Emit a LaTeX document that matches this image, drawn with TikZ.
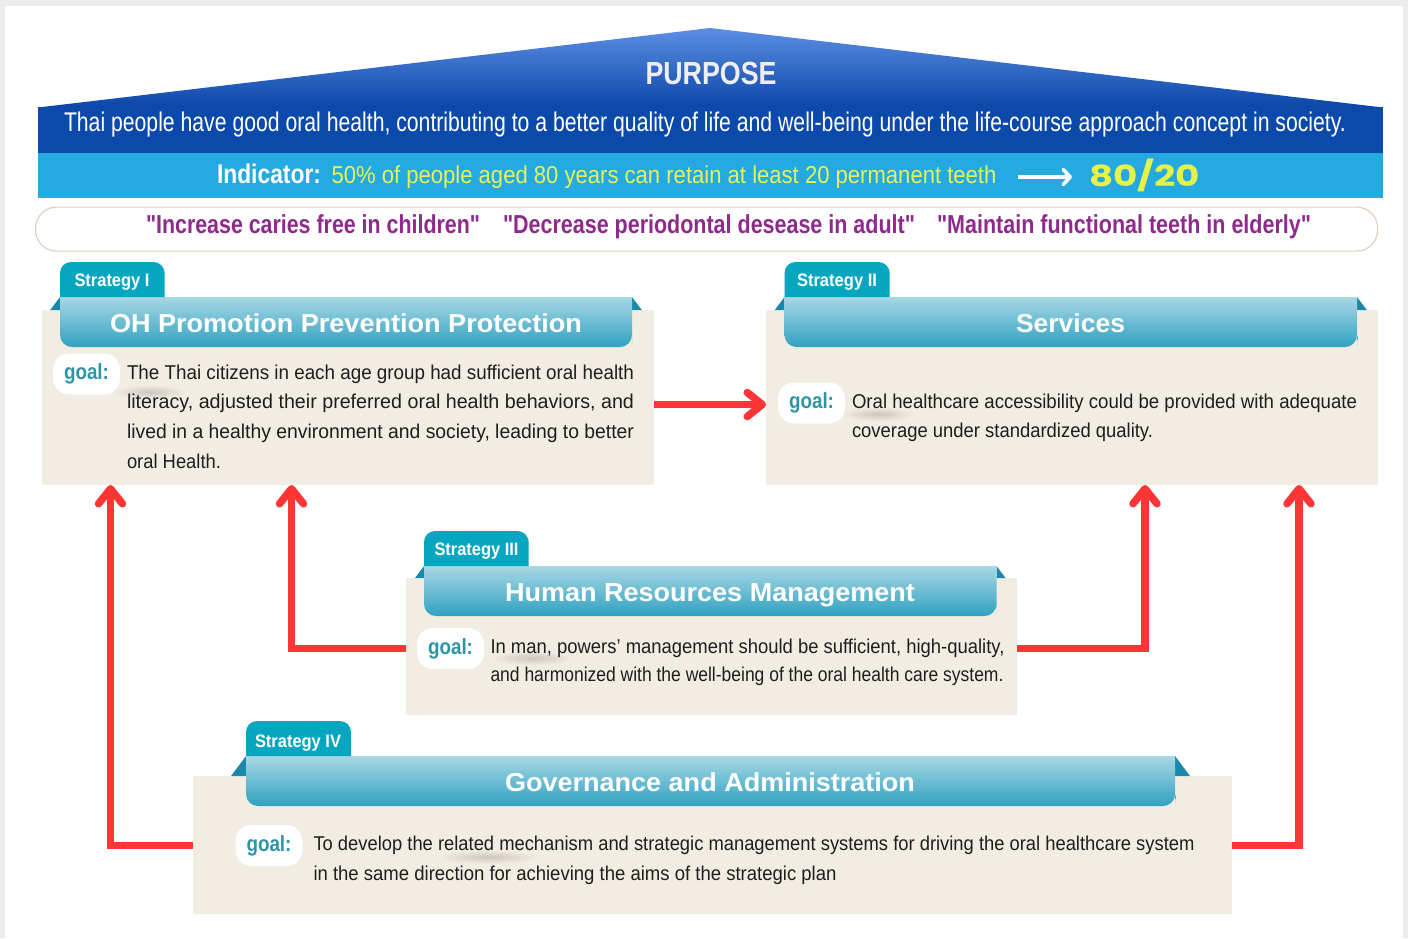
\documentclass[tikz,border=0pt]{standalone}
\usepackage{fontspec}
\usepackage{graphicx}
\setmainfont{Liberation Sans}
\newfontfamily\qfont{Liberation Sans}[Ligatures=TeXOff]
\newfontfamily\popfont{Poppins}
\usetikzlibrary{arrows.meta}

\definecolor{bgray}{HTML}{ECECEC}
\definecolor{rooftop}{HTML}{5C8FE4}
\definecolor{roofbot}{HTML}{0B46A8}
\definecolor{bandblue}{HTML}{0B49AA}
\definecolor{indblue}{HTML}{25A9E1}
\definecolor{yel}{HTML}{E4F25C}
\definecolor{yelb}{HTML}{E5F24A}
\definecolor{pillb}{HTML}{E3CFC7}
\definecolor{purp}{HTML}{8E2A8B}
\definecolor{beige}{HTML}{F2EDE3}
\definecolor{ribtop}{HTML}{A8D8E5}
\definecolor{ribbot}{HTML}{30A1C1}
\definecolor{tabc}{HTML}{05A6BF}
\definecolor{foldc}{HTML}{1A88AA}
\definecolor{goalc}{HTML}{2E95A7}
\definecolor{redc}{HTML}{FF3535}
\definecolor{bodyc}{HTML}{1E1E1E}
\definecolor{purpc}{HTML}{EFEFEF}

\newsavebox\fitbox
\newcommand\fitw[2]{\sbox\fitbox{#2}\edef\fitfac{\fpeval{(#1)/(\the\wd\fitbox)}}\scalebox{\fitfac}[1]{\usebox\fitbox}}
\newcommand\fs[1]{\fontsize{#1}{#1}\selectfont}

% #1 ribbon left x, #2 ribbon right x, #3 ribbon top y, #4 beige top y, #5 tab right x
\newcommand\stratdeco[5]{%
  \fill[foldc] ({#1-0.75*(#4-#3)},#4) -- (#1,#3) -- (#1,#4) -- cycle;
  \fill[foldc] ({#2+0.75*(#4-#3)},#4) -- (#2,#3) -- (#2,#4) -- cycle;
  \shade[top color=ribtop,bottom color=ribbot] (#1,#3) -- (#1,{#3+36}) {[rounded corners=12pt] -- (#1,{#3+50}) -- (#2,{#3+50}) -- (#2,{#3+36})} -- (#2,#3) -- cycle;
  \fill[tabc] (#1,#3) -- (#1,{#3-18}) {[rounded corners=11pt] -- (#1,{#3-35}) -- (#5,{#3-35}) -- (#5,{#3-18})} -- (#5,#3) -- cycle;
}
\newcommand\softshadow[3]{%
  \shade[inner color=black!16!beige,outer color=beige] (#1,#2) ellipse (#3 and 7);
}

\begin{document}
\begin{tikzpicture}[x=1pt,y=-1pt,
  txt/.style={inner sep=0pt,outer sep=0pt},
  bodyline/.style={txt,anchor=base west,text=bodyc,font=\fs{20}},
  tabtext/.style={txt,anchor=base,text=white,font=\fs{18}\bfseries},
  titletext/.style={txt,anchor=base,text=white,font=\fs{26}\bfseries},
  quotetext/.style={txt,anchor=base west,text=purp,font=\qfont\fs{26}\bfseries},
  beigebox/.style={fill=beige,inner sep=0pt,outer sep=0pt,anchor=north west},
  goalpill/.style={fill=white,rounded corners=16pt,minimum width=67pt,minimum height=41pt,inner sep=0pt,text=goalc,font=\fs{22}\bfseries},
  redline/.style={draw=redc,line width=7.5pt,-{Straight Barb[length=15pt,width=24pt,round]}}
]
\useasboundingbox (0,0) rectangle (1408,938);
\fill[bgray] (0,0) rectangle (1408,938);
\fill[white] (5,6) rectangle (1403,938);

% roof and bands
\shade[top color=rooftop,bottom color=roofbot] (38,107.5) -- (710,28) -- (1383,107.5) -- cycle;
\fill[bandblue] (38,107) rectangle (1383,153);
\fill[indblue] (38,153) rectangle (1383,198);

\node[txt,anchor=base,text=purpc,font=\fs{32}\bfseries] (purpose) at (711,84) {\fitw{131}{PURPOSE}};
\node[txt,anchor=base west,text=white,font=\fs{27}] (purposeline) at (64,131) {\fitw{1282}{Thai people have good oral health, contributing to a better quality of life and well-being under the life-course approach concept in society.}};
\node[txt,anchor=base west,text=white,font=\fs{27}\bfseries] (indlabel) at (217,183.5) {\fitw{104}{Indicator:}};
\node[txt,anchor=base west,text=yel,font=\fs{24.5}] (indtext) at (331.5,183.5) {\fitw{665}{50\% of people aged 80 years can retain at least 20 permanent teeth}};
\coordinate (arrA) at (1018,177);
\coordinate (arrB) at (1072,177);
\draw[white,line width=3.6pt,-{Straight Barb[length=7pt,width=15pt,round]}] (arrA) -- (arrB);
\node[txt,anchor=base west,text=yelb,font=\popfont\fs{29}\bfseries] (eighty) at (1089,186) {\fitw{111}{80/20}};

% pill of aims
\node[draw=pillb,fill=white,line width=1.2pt,rounded corners=21pt,minimum width=1342pt,minimum height=44pt,inner sep=0pt,anchor=north west] (pill) at (35,206.5) {};
\node[quotetext] (q1) at (146,233.5) {\fitw{334}{"Increase caries free in children"}};
\node[quotetext] (q2) at (503,233.5) {\fitw{412}{"Decrease periodontal desease in adult"}};
\node[quotetext] (q3) at (937,233.5) {\fitw{374}{"Maintain functional teeth in elderly"}};

% strategy boxes
\node[beigebox,minimum width=612pt,minimum height=175pt] (s1) at (41.5,310) {};
\node[beigebox,minimum width=612pt,minimum height=175pt] (s2) at (766,310) {};
\node[beigebox,minimum width=611pt,minimum height=137pt] (s3) at (406,578) {};
\node[beigebox,minimum width=1039pt,minimum height=138pt] (s4) at (193,776) {};

% soft shadows beside goal labels
\softshadow{150}{392}{36}
\softshadow{878}{414}{36}
\softshadow{532}{658}{40}
\softshadow{488}{857}{50}

% goal labels
\node[goalpill] (g1) at (86.5,374) {\fitw{45}{goal:}};
\node[goalpill] (g2) at (811.5,403) {\fitw{45}{goal:}};
\node[goalpill] (g3) at (450.5,648.5) {\fitw{45}{goal:}};
\node[goalpill] (g4) at (269,845.5) {\fitw{45}{goal:}};

% red connectors
\draw[redline] (s1.east |- 0,404.5) -- (s2.west |- 0,404.5);
\draw[redline] (s3.west |- g3.center) -| ([xshift=-56pt]s1.south);
\draw[redline] (s3.east |- g3.center) -| ([xshift=73pt]s2.south);
\draw[redline] (s4.west |- g4.center) -| ([xshift=69pt]s1.south west);
\draw[redline] (s4.east |- g4.center) -| ([xshift=-79pt]s2.south east);

% ribbons, folds, tabs
\stratdeco{60}{632}{297}{310}{164.5}
\stratdeco{784.5}{1357}{297}{310}{889.5}
\stratdeco{424}{996.5}{566}{578}{528.5}
\stratdeco{246}{1175}{756}{776}{351}

\node[tabtext] (t1) at (112,286.5) {\fitw{75}{Strategy I}};
\node[tabtext] (t2) at (837,286.5) {\fitw{80}{Strategy II}};
\node[tabtext] (t3) at (476.5,555.5) {\fitw{84}{Strategy III}};
\node[tabtext] (t4) at (298,747) {\fitw{86}{Strategy IV}};

\node[titletext] (h1) at (346,332.5) {\fitw{472}{OH Promotion Prevention Protection}};
\node[titletext] (h2) at (1070.5,332) {\fitw{109}{Services}};
\node[titletext] (h3) at (710,601) {\fitw{410}{Human Resources Management}};
\node[titletext] (h4) at (710,791) {\fitw{410}{Governance and Administration}};

% goal texts
\node[bodyline] (b1a) at (127,379) {\fitw{507}{The Thai citizens in each age group had sufficient oral health}};
\node[bodyline] (b1b) at (127,408.5) {\fitw{507}{literacy, adjusted their preferred oral health behaviors, and}};
\node[bodyline] (b1c) at (127,438.5) {\fitw{507}{lived in a healthy environment and society, leading to better}};
\node[bodyline] (b1d) at (127,468) {\fitw{94}{oral Health.}};

\node[bodyline] (b2a) at (852,408) {\fitw{505}{Oral healthcare accessibility could be provided with adequate}};
\node[bodyline] (b2b) at (852,437.5) {\fitw{301}{coverage under standardized quality.}};

\node[bodyline] (b3a) at (490.5,653.5) {\fitw{514}{In man, powers’ management should be sufficient, high-quality,}};
\node[bodyline] (b3b) at (490.5,681.5) {\fitw{513}{and harmonized with the well-being of the oral health care system.}};

\node[bodyline] (b4a) at (313.5,850) {\fitw{881}{To develop the related mechanism and strategic management systems for driving the oral healthcare system}};
\node[bodyline] (b4b) at (313.5,880) {\fitw{523}{in the same direction for achieving the aims of the strategic plan}};
\end{tikzpicture}
\end{document}
